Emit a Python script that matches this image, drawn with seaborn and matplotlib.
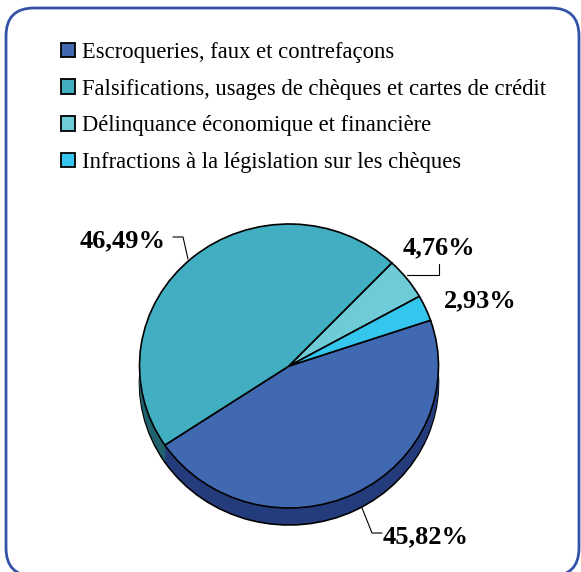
import matplotlib
matplotlib.use("Agg")
import matplotlib.pyplot as plt
import seaborn as sns
from matplotlib.patches import FancyBboxPatch, Patch

# données
categories = [
    "Escroqueries, faux et contrefaçons",
    "Falsifications, usages de chèques et cartes de crédit",
    "Délinquance économique et financière",
    "Infractions à la législation sur les chèques",
]
values = [45.82, 46.49, 4.76, 2.93]
pct_labels = ["45,82%", "46,49%", "4,76%", "2,93%"]

top_colors = ["#4169B2", "#41AEC2", "#6FCBD8", "#35C6EE"]
side_colors = ["#253C7C", "#1F626E", "#3C8E99", "#1D8DB0"]

sns.set_style("white")
plt.rcParams["font.family"] = ["Liberation Serif", "DejaVu Serif"]

W, H = 581, 572
fig = plt.figure(figsize=(W / 100, H / 100), dpi=100)

# fond + cadre arrondi (coordonnées en pixels)
bg = fig.add_axes([0, 0, 1, 1])
bg.set_xlim(0, W)
bg.set_ylim(H, 0)
bg.axis("off")
bg.add_patch(FancyBboxPatch((6, 8), 573, 568,
                            boxstyle="round,pad=0,rounding_size=28",
                            facecolor="white", edgecolor="#3553A6", linewidth=2))

# camembert "3D" : centre (289, 366) px, rayons 149.5 x 142 px
cx, cy, rx, ry = 289, 366, 149.5, 142
x0, x1 = -1.9, 1.9
y0, y1 = -1.35, 1.3
left = (cx + x0 * rx) / W
bottom = 1 - (cy - y0 * ry) / H
ax = fig.add_axes([left, bottom, (x1 - x0) * rx / W, (y1 - y0) * ry / H])
ax.patch.set_alpha(0)

depth = 17 / ry
steps = 12
for i in range(steps, 0, -1):
    d = depth * i / steps
    ax.pie(values, colors=side_colors, startangle=18.8, counterclock=False,
           center=(0, -d), radius=1,
           wedgeprops=dict(edgecolor="black" if i == steps else "none",
                           linewidth=1.2))
ax.pie(values, colors=top_colors, startangle=18.8, counterclock=False,
       center=(0, 0), radius=1,
       wedgeprops=dict(edgecolor="black", linewidth=1.2))
ax.set_aspect("auto")
ax.set_xlim(x0, x1)
ax.set_ylim(y0, y1)
ax.axis("off")

# étiquettes + lignes de rappel (pixels)
label_pos = [(426, 543), (123, 247), (439, 254), (480, 307)]
leaders = [
    [(382, 533), (372, 533), (362, 508)],
    [(173, 237), (183, 237), (188, 259)],
    [(439, 264), (439, 275), (407, 275)],
    None,
]
for lab, (lx, ly), ld in zip(pct_labels, label_pos, leaders):
    bg.text(lx, ly, lab, ha="center", va="baseline", fontsize=19,
            fontweight="bold", color="black")
    if ld:
        xs, ys = zip(*ld)
        bg.plot(xs, ys, color="black", linewidth=0.8)

# légende
handles = [Patch(facecolor=c, edgecolor="black", linewidth=1.3) for c in top_colors]
fig.legend(handles, categories, loc="upper left",
           bbox_to_anchor=(61 / W, 1 - 42 / H), frameon=False,
           fontsize=16.3, handlelength=0.62, handleheight=0.62,
           handletextpad=0.3, labelspacing=0.69, labelcolor="black",
           borderpad=0, borderaxespad=0)

fig.savefig("out.png", dpi=100)
